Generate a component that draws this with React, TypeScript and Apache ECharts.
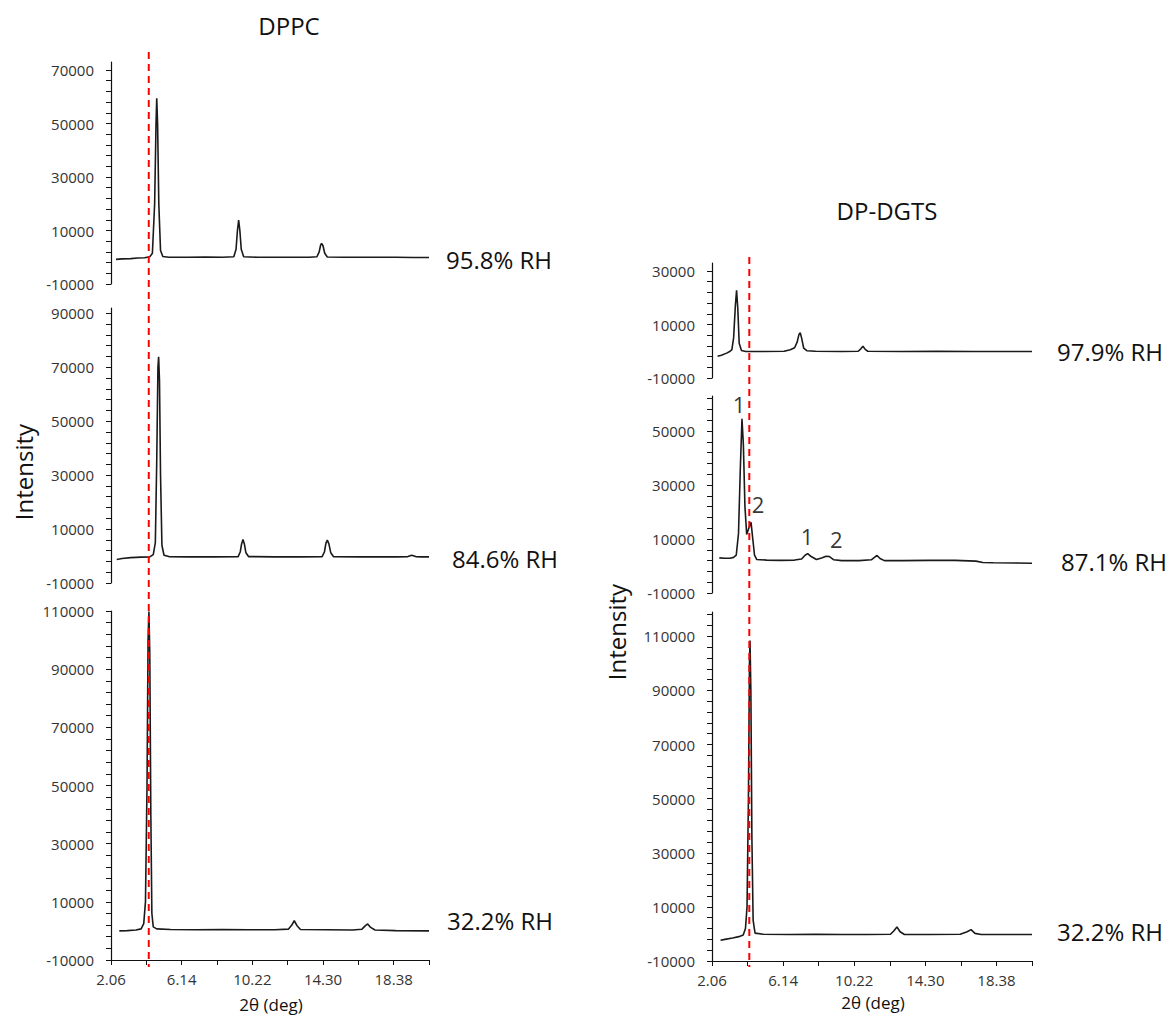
import React, { useEffect, useRef } from "react";
import * as echarts from "echarts";

// ---------- data ----------
const X_MIN = 2.06;
const X_MAX = 20.42;
const xLabelValues = [2.06, 6.14, 10.22, 14.3, 18.38];
const xTickValues = [2.06, 4.1, 6.14, 8.18, 10.22, 12.26, 14.3, 16.34, 18.38, 20.42];

// DPPC, 95.8% RH
const dppc958: number[][] = [
  [2.35, -800], [2.7, -600], [3.2, -500], [3.6, -300], [4.0, -200], [4.3, 200], [4.45, 1500],
  [4.58, 20000], [4.66, 50000], [4.7, 59400], [4.75, 50000], [4.82, 20000], [4.92, 2500], [5.05, 300],
  [5.4, 0], [6.5, 0], [7.5, 100], [8.5, 0], [9.15, 200], [9.28, 3000], [9.36, 10000], [9.43, 13900],
  [9.5, 10000], [9.58, 3000], [9.72, 200], [10.5, 0], [12, 0], [13.5, 0], [13.95, 200], [14.08, 2000],
  [14.16, 4500], [14.22, 5200], [14.3, 4300], [14.4, 1500], [14.55, 100], [15.5, 0], [17, 0], [18.5, 0],
  [19.5, -100], [20.42, -100],
];
// DPPC, 84.6% RH
const dppc846: number[][] = [
  [2.39, -1300], [2.7, -900], [3.2, -600], [3.8, -400], [4.3, -300], [4.5, 500], [4.62, 5000],
  [4.7, 35000], [4.77, 70000], [4.81, 73900], [4.86, 65000], [4.92, 30000], [5.0, 4000], [5.12, 300],
  [5.4, -200], [6.5, -300], [8, -300], [9.4, -200], [9.52, 1500], [9.6, 4500], [9.68, 6100], [9.76, 4500],
  [9.85, 1200], [10.0, -200], [11.5, -300], [13, -300], [14.25, -200], [14.38, 1500], [14.47, 4800],
  [14.55, 5900], [14.64, 4500], [14.75, 1200], [14.9, -200], [16.5, -300], [18.5, -300], [19.2, -200],
  [19.42, 300], [19.65, -200], [20.0, -300], [20.42, -300],
];
// DPPC, 32.2% RH
const dppc322: number[][] = [
  [2.54, 0], [3.0, 100], [3.5, 300], [3.8, 700], [3.95, 2500], [4.05, 10000], [4.14, 50000],
  [4.2, 100000], [4.25, 109800], [4.3, 95000], [4.36, 40000], [4.42, 6000], [4.5, 1400], [4.7, 700],
  [5.5, 500], [7, 400], [8.5, 500], [10, 400], [11.5, 400], [12.3, 600], [12.5, 2000], [12.64, 3500],
  [12.8, 1800], [13.0, 500], [14.5, 400], [16, 300], [16.55, 600], [16.75, 1800], [16.88, 2400],
  [17.05, 1200], [17.3, 300], [18.5, 100], [20.42, 0],
];
// DP-DGTS, 97.9% RH
const dgts979: number[][] = [
  [2.38, -1900], [2.6, -1500], [2.9, -700], [3.1, 0], [3.2, 600], [3.3, 5000], [3.4, 17000],
  [3.47, 22800], [3.54, 16000], [3.62, 3000], [3.75, 300], [4, -100], [5, -100], [6.2, 0], [6.55, 600],
  [6.8, 1300], [6.95, 3500], [7.05, 6300], [7.12, 6900], [7.2, 5000], [7.32, 1200], [7.5, 200], [8, 0],
  [9.5, -100], [10.45, 0], [10.6, 900], [10.72, 1900], [10.85, 700], [11.0, 0], [13, -100], [15, 0],
  [17, -100], [19, -100], [20.42, -100],
];
// DP-DGTS, 87.1% RH
const dgts871: number[][] = [
  [2.48, 3000], [2.8, 2900], [3.1, 2900], [3.3, 3200], [3.45, 4000], [3.58, 12000], [3.68, 35000],
  [3.78, 54600], [3.86, 45000], [3.95, 22000], [4.05, 11700], [4.17, 14000], [4.3, 16200], [4.4, 10000],
  [4.5, 4000], [4.63, 2400], [5.2, 2200], [6, 2100], [6.8, 2200], [7.2, 2600], [7.4, 4000], [7.55, 4600],
  [7.75, 3500], [8.05, 2400], [8.35, 3000], [8.6, 3600], [8.8, 3500], [9.05, 2300], [9.5, 2000],
  [10.5, 2000], [11.2, 2300], [11.4, 3300], [11.53, 3900], [11.7, 2800], [11.95, 2000], [13, 2000],
  [14.5, 2100], [16, 2100], [17.2, 1800], [17.6, 1300], [18.2, 1200], [19.5, 1100], [20.42, 1000],
];
// DP-DGTS, 32.2% RH
const dgts322: number[][] = [
  [2.55, -2300], [2.8, -2000], [3.24, -1500], [3.6, -1000], [3.85, -400], [3.98, 2000], [4.07, 10000],
  [4.15, 50000], [4.21, 100000], [4.24, 108500], [4.29, 90000], [4.35, 35000], [4.42, 5000], [4.53, 300],
  [5, -100], [6.5, -200], [8, -100], [9.5, -200], [11, -200], [12.3, -100], [12.5, 1200], [12.67, 2600],
  [12.85, 800], [13.1, -200], [14.5, -200], [16.3, -100], [16.7, 800], [16.92, 1600], [17.15, 200],
  [17.5, -200], [19, -200], [20.42, -200],
];

const yLabelsDppc958 = [-10000, 10000, 30000, 50000, 70000];
const yLabelsDppc846 = [-10000, 10000, 30000, 50000, 70000, 90000];
const yLabelsDppc322 = [-10000, 10000, 30000, 50000, 70000, 90000, 110000];
const yLabelsDgts979 = [-10000, 10000, 30000];
const yLabelsDgts871 = [-10000, 10000, 30000, 50000];
const yLabelsDgts322 = [-10000, 10000, 30000, 50000, 70000, 90000, 110000];

const refLineDppc = 4.24;
const refLineDgts = 4.2;

const peakMarks = [
  { name: "1", value: [3.61, 60200] },
  { name: "2", value: [4.7, 22900] },
  { name: "1", value: [7.52, 11000] },
  { name: "2", value: [9.19, 9900] },
];

const FONT = "'Open Sans', 'Liberation Sans', sans-serif";

function tickList(min: number, max: number, step: number) {
  const out: number[] = [];
  for (let v = min; v <= max + 1e-9; v += step) out.push(v);
  return out;
}

export default function App() {
  const ref = useRef<HTMLDivElement>(null);

  useEffect(() => {
    if (!ref.current) return;
    const chart = echarts.init(ref.current, undefined, { renderer: "svg" });

    const panels = [
      { grid: { left: 111, top: 62, width: 318, height: 222 }, data: dppc958, max: 73000, labels: yLabelsDppc958, showX: false },
      { grid: { left: 111, top: 308, width: 318, height: 275 }, data: dppc846, max: 92000, labels: yLabelsDppc846, showX: false },
      { grid: { left: 111, top: 611, width: 318, height: 349 }, data: dppc322, max: 110000, labels: yLabelsDppc322, showX: true },
      { grid: { left: 712, top: 263, width: 320, height: 115 }, data: dgts979, max: 33000, labels: yLabelsDgts979, showX: false },
      { grid: { left: 712, top: 396, width: 320, height: 197 }, data: dgts871, max: 63000, labels: yLabelsDgts871, showX: false },
      { grid: { left: 712, top: 612, width: 320, height: 349 }, data: dgts322, max: 119000, labels: yLabelsDgts322, showX: true },
    ];

    const axisColor = "#111";
    const labelColor = "#333";

    const option: any = {
      animation: false,
      backgroundColor: "#fff",
      grid: panels.map((p) => ({ ...p.grid, containLabel: false, outerBoundsMode: "none" })),
      xAxis: panels.map((p, i) => ({
        type: "value",
        gridIndex: i,
        min: X_MIN,
        max: X_MAX,
        show: p.showX,
        splitLine: { show: false },
        axisLine: { show: true, onZero: false, lineStyle: { color: axisColor, width: 1.2 } },
        axisTick: { show: true, customValues: xTickValues, length: 5, lineStyle: { color: axisColor } },
        axisLabel: {
          customValues: xLabelValues,
          formatter: (v: number) => v.toFixed(2),
          fontSize: 15,
          color: labelColor,
          fontFamily: FONT,
          margin: 11,
        },
      })),
      yAxis: panels.map((p, i) => ({
        type: "value",
        gridIndex: i,
        min: -10000,
        max: p.max,
        splitLine: { show: false },
        axisLine: { show: true, onZero: false, lineStyle: { color: axisColor, width: 1.2 } },
        axisTick: { show: true, customValues: tickList(-10000, p.max, 4000), length: 5, lineStyle: { color: axisColor } },
        axisLabel: {
          customValues: p.labels,
          formatter: (v: number) => String(Math.round(v)),
          fontSize: 15,
          color: labelColor,
          fontFamily: FONT,
          margin: 17,
        },
      })),
      series: [
        ...panels.map((p, i) => ({
          type: "line",
          xAxisIndex: i,
          yAxisIndex: i,
          data: p.data,
          showSymbol: false,
          symbol: "none",
          smooth: false,
          lineStyle: { color: "#1a1a1a", width: 1.6 },
          z: 2,
        })),
        {
          type: "scatter",
          xAxisIndex: 4,
          yAxisIndex: 4,
          data: peakMarks,
          symbolSize: 1,
          itemStyle: { color: "rgba(0,0,0,0)" },
          label: {
            show: true,
            position: "inside",
            formatter: "{b}",
            fontSize: 22,
            color: "#000",
            fontFamily: FONT,
          },
          z: 5,
        },
      ],
    };
    chart.setOption(option);

    const xl = chart.convertToPixel({ gridIndex: 2 }, [refLineDppc, 0])[0];
    const xr = chart.convertToPixel({ gridIndex: 5 }, [refLineDgts, 0])[0];

    const txt = (text: string, x: number, y: number, size: number, align = "left", rotation = 0) => ({
      type: "text",
      x,
      y,
      rotation,
      z: 10,
      style: { text, fontSize: size, fontFamily: FONT, fill: "#111", align, verticalAlign: "middle" },
    });

    chart.setOption({
      graphic: [
        {
          type: "line",
          z: 8,
          shape: { x1: xl, y1: 52, x2: xl, y2: 967 },
          style: { stroke: "#ff0000", lineWidth: 2, lineDash: [7, 5] },
        },
        {
          type: "line",
          z: 8,
          shape: { x1: xr, y1: 257, x2: xr, y2: 967 },
          style: { stroke: "#ff0000", lineWidth: 2, lineDash: [7, 5] },
        },
        txt("DPPC", 289, 25, 24, "center"),
        txt("DP-DGTS", 887, 210, 24, "center"),
        txt("Intensity", 23, 472, 24, "center", Math.PI / 2),
        txt("Intensity", 616, 632, 24, "center", Math.PI / 2),
        txt("2θ (deg)", 271, 1004, 17, "center"),
        txt("2θ (deg)", 873, 1002, 17, "center"),
        txt("95.8% RH", 446, 259, 24),
        txt("84.6% RH", 452, 558, 24),
        txt("32.2% RH", 447, 920, 24),
        txt("97.9% RH", 1057, 351, 24),
        txt("87.1% RH", 1061, 561, 24),
        txt("32.2% RH", 1057, 931, 24),
      ],
    });

    return () => chart.dispose();
  }, []);

  return (
    <div
      ref={ref}
      style={{ position: "absolute", left: 0, top: 0, width: 1175, height: 1019, background: "#fff" }}
    />
  );
}
